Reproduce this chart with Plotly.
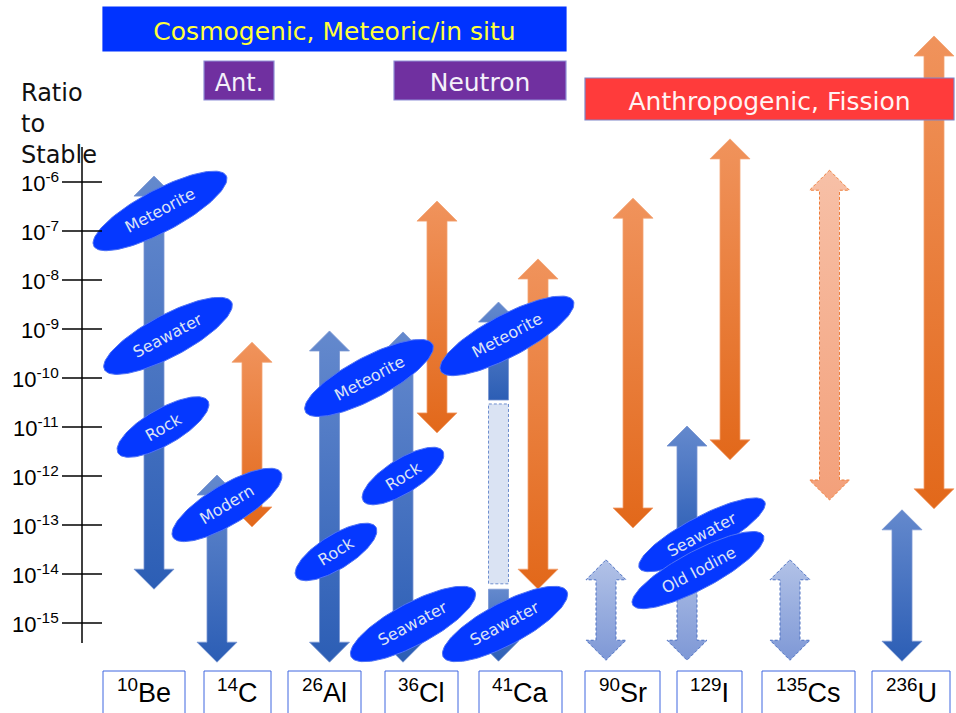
import plotly.graph_objects as go
import numpy as np

# ---------------- data ----------------
isotope_labels = ["<sup>10</sup>Be", "<sup>14</sup>C", "<sup>26</sup>Al", "<sup>36</sup>Cl",
                  "<sup>41</sup>Ca", "<sup>90</sup>Sr", "<sup>129</sup>I", "<sup>135</sup>Cs",
                  "<sup>236</sup>U"]
tick_exponents = [-6, -7, -8, -9, -10, -11, -12, -13, -14, -15]
tick_labels = ["10<sup>%d</sup>" % e for e in tick_exponents]

# arrow ranges, log10(ratio to stable)
arrow_isotope = ["10Be", "14C", "14C", "26Al", "36Cl", "36Cl", "41Ca", "41Ca", "41Ca", "41Ca",
                 "90Sr", "90Sr", "129I", "129I", "129I", "135Cs", "135Cs", "236U", "236U"]
arrow_top = [-5.88, -11.98, -9.27, -9.04, -9.06, -6.39, -8.45, -10.53, -14.31, -7.57,
             -6.33, -13.71, -10.98, -13.50, -5.12, -13.71, -5.76, -12.69, -3.02]
arrow_bottom = [-14.31, -15.80, -13.04, -15.80, -15.80, -11.12, -10.45, -14.20, -15.78, -14.31,
                -13.06, -15.76, -13.50, -15.76, -11.67, -15.76, -12.49, -15.78, -12.67]
arrow_heads = ["both", "both", "both", "both", "both", "both", "up", "none", "down", "both",
               "both", "both", "up", "down", "both", "both", "both", "both", "both"]
arrow_kind = ["blue", "blue", "orange", "blue", "blue", "orange", "blue", "box", "blue", "orange",
              "orange", "blue_dash", "blue", "blue_dash", "orange", "blue_dash", "orange_dash",
              "blue", "orange"]
# horizontal placement of each arrow (layout, pixels)
arrow_x = [154, 217, 252, 329.5, 403, 437, 498.5, 498.5, 498.5, 538,
           633, 606, 687, 687, 730, 790, 829.5, 902, 934]

# labelled ellipses: (text, centre log10 ratio)
ellipse_text = ["Meteorite", "Seawater", "Rock", "Modern", "Meteorite", "Rock", "Rock",
                "Seawater", "Meteorite", "Seawater", "Seawater", "Old Iodine"]
ellipse_value = [-6.59, -9.14, -11.00, -12.59, -10.00, -13.55, -12.00,
                 -15.02, -9.14, -15.02, -13.20, -13.92]
ellipse_x = [160, 168, 163, 227, 369, 336, 403, 413, 507, 505, 702, 698]
ellipse_a = [75, 72, 52, 63, 72, 47, 47, 70, 75, 70, 71, 74]
ellipse_b = [21, 21, 18, 20, 21, 17, 17, 21, 21, 21, 18, 19]
ellipse_ang = [28, 28, 30, 31, 28, 32, 32, 28, 28, 28, 28, 28]

# ---------------- geometry helpers ----------------
W, H = 956, 713
DEC = 49.0          # pixels per decade
PX_E6 = 182.0       # pixel row of 1e-6


def px2e(py):
    return -6 - (py - PX_E6) / DEC


def paper_y(py):
    return 1 - py / H


SW, HW, HH = 10.0, 20.0, 20.0 / DEC   # half shaft, half head (px), head height (decades)

styles = {
    "blue": dict(c0="#2C5EB5", c1="#6489CD", line="#7895D2", dash="solid", w=0.8),
    "orange": dict(c0="#E2681A", c1="#F0935C", line="#F3A272", dash="solid", w=0.8),
    "blue_dash": dict(c0="#7E98D6", c1="#B2C2E7", line="#4E72C3", dash="3px,2px", w=1),
    "orange_dash": dict(c0="#F3A07A", c1="#F7C0A7", line="#EE7F3C", dash="3px,2px", w=1),
    "box": dict(c0="#DAE3F3", c1="#DAE3F3", line="#6F8FCF", dash="3px,2px", w=1),
}


def arrow_path(x, top, bot, heads):
    xs, ys = [], []
    if heads in ("both", "up"):
        xs += [x, x + HW, x + SW]
        ys += [top, top - HH, top - HH]
    else:
        xs += [x + SW]
        ys += [top]
    if heads in ("both", "down"):
        xs += [x + SW, x + HW, x, x - HW, x - SW]
        ys += [bot + HH, bot + HH, bot, bot + HH, bot + HH]
    else:
        xs += [x + SW, x - SW]
        ys += [bot, bot]
    if heads in ("both", "up"):
        xs += [x - SW, x - HW, x]
        ys += [top - HH, top - HH, top]
    else:
        xs += [x - SW, x + SW]
        ys += [top, top]
    return xs, ys


fig = go.Figure()

for x, t, b, hd, k in zip(arrow_x, arrow_top, arrow_bottom, arrow_heads, arrow_kind):
    s = styles[k]
    xs, ys = arrow_path(x, t, b, hd)
    fig.add_trace(go.Scatter(
        x=xs, y=ys, mode="lines", fill="toself",
        fillgradient=dict(type="vertical", colorscale=[[0, s["c0"]], [1, s["c1"]]]),
        line=dict(color=s["line"], width=s["w"], dash=s["dash"]),
        hoverinfo="skip"))

# ellipses
tt = np.linspace(0, 2 * np.pi, 120)
annotations = []
for txt, v, cx, a, b, ang in zip(ellipse_text, ellipse_value, ellipse_x, ellipse_a,
                                  ellipse_b, ellipse_ang):
    th = np.radians(ang)
    ex = cx + a * np.cos(tt) * np.cos(th) - b * np.sin(tt) * np.sin(th)
    ey = v + (a * np.cos(tt) * np.sin(th) + b * np.sin(tt) * np.cos(th)) / DEC
    fig.add_trace(go.Scatter(x=ex, y=ey, mode="lines", fill="toself", fillcolor="#0538FF",
                             line=dict(color="#4F72F5", width=1), hoverinfo="skip"))
    annotations.append(dict(x=cx, y=v, xref="x", yref="y", text=txt, showarrow=False,
                            textangle=-ang,
                            font=dict(family="DejaVu Sans", size=16, color="#DCE3F6")))

shapes = []
# vertical axis and crossing ticks
shapes.append(dict(type="line", xref="x", yref="y", x0=82, x1=82, y0=px2e(147), y1=px2e(643),
                   line=dict(color="black", width=1.5)))
for e, lab in zip(tick_exponents, tick_labels):
    shapes.append(dict(type="line", xref="x", yref="y", x0=62, x1=102, y0=e, y1=e,
                       line=dict(color="black", width=1.5)))
    annotations.append(dict(x=61, y=e, xref="x", yref="y", text=lab, showarrow=False,
                            xanchor="right", yanchor="middle",
                            font=dict(family="Liberation Sans", size=22, color="black")))

annotations.append(dict(x=19, y=paper_y(77), xref="x", yref="paper",
                        text="Ratio<br>to<br>Stable", showarrow=False, align="left",
                        xanchor="left", yanchor="top",
                        font=dict(family="DejaVu Sans", size=24, color="#111111")))

# isotope boxes along the bottom
box_left = [103, 204, 288, 385, 479, 585, 677, 762, 872]
box_right = [185, 271, 361, 458, 562, 660, 742, 855, 950]
for l, r, lab in zip(box_left, box_right, isotope_labels):
    shapes.append(dict(type="rect", xref="x", yref="paper", x0=l, x1=r,
                       y0=paper_y(720), y1=paper_y(671),
                       line=dict(color="#3F66E0", width=1), fillcolor="white"))
    annotations.append(dict(x=(l + r) / 2, y=paper_y(691), xref="x", yref="paper", text=lab,
                            showarrow=False, xanchor="center", yanchor="middle",
                            font=dict(family="Liberation Sans", size=27, color="black")))

# header boxes
headers = [
    ("Cosmogenic, Meteoric/in situ", 103, 566, 7, 51, "#0033FF", "#0033FF", "#FFFF3C", 25),
    ("Ant.", 204, 274, 61, 100, "#7030A0", "#8F8FD8", "#F4F0FA", 24),
    ("Neutron", 394, 566, 61, 100, "#7030A0", "#8F8FD8", "#F4F0FA", 25),
    ("Anthropogenic, Fission", 585, 954, 78, 120, "#FF3B3B", "#7F86C8", "#FFF4F4", 25),
]
for txt, l, r, t, b, fc, lc, tc, fs in headers:
    shapes.append(dict(type="rect", xref="x", yref="paper", x0=l, x1=r,
                       y0=paper_y(b), y1=paper_y(t), fillcolor=fc,
                       line=dict(color=lc, width=1.2), layer="above",
                       label=dict(text=txt, textposition="middle center",
                                  font=dict(family="DejaVu Sans", size=fs, color=tc))))

fig.update_layout(
    width=W, height=H, margin=dict(l=0, r=0, t=0, b=0),
    paper_bgcolor="white", plot_bgcolor="white", showlegend=False,
    xaxis=dict(range=[0, W], visible=False, fixedrange=True),
    yaxis=dict(range=[px2e(H), px2e(0)], visible=False, fixedrange=True),
    shapes=shapes, annotations=annotations,
)

fig.write_html("out.html", config={"displayModeBar": False},
               post_script="document.body.style.margin='0';document.body.style.overflow='hidden';")
